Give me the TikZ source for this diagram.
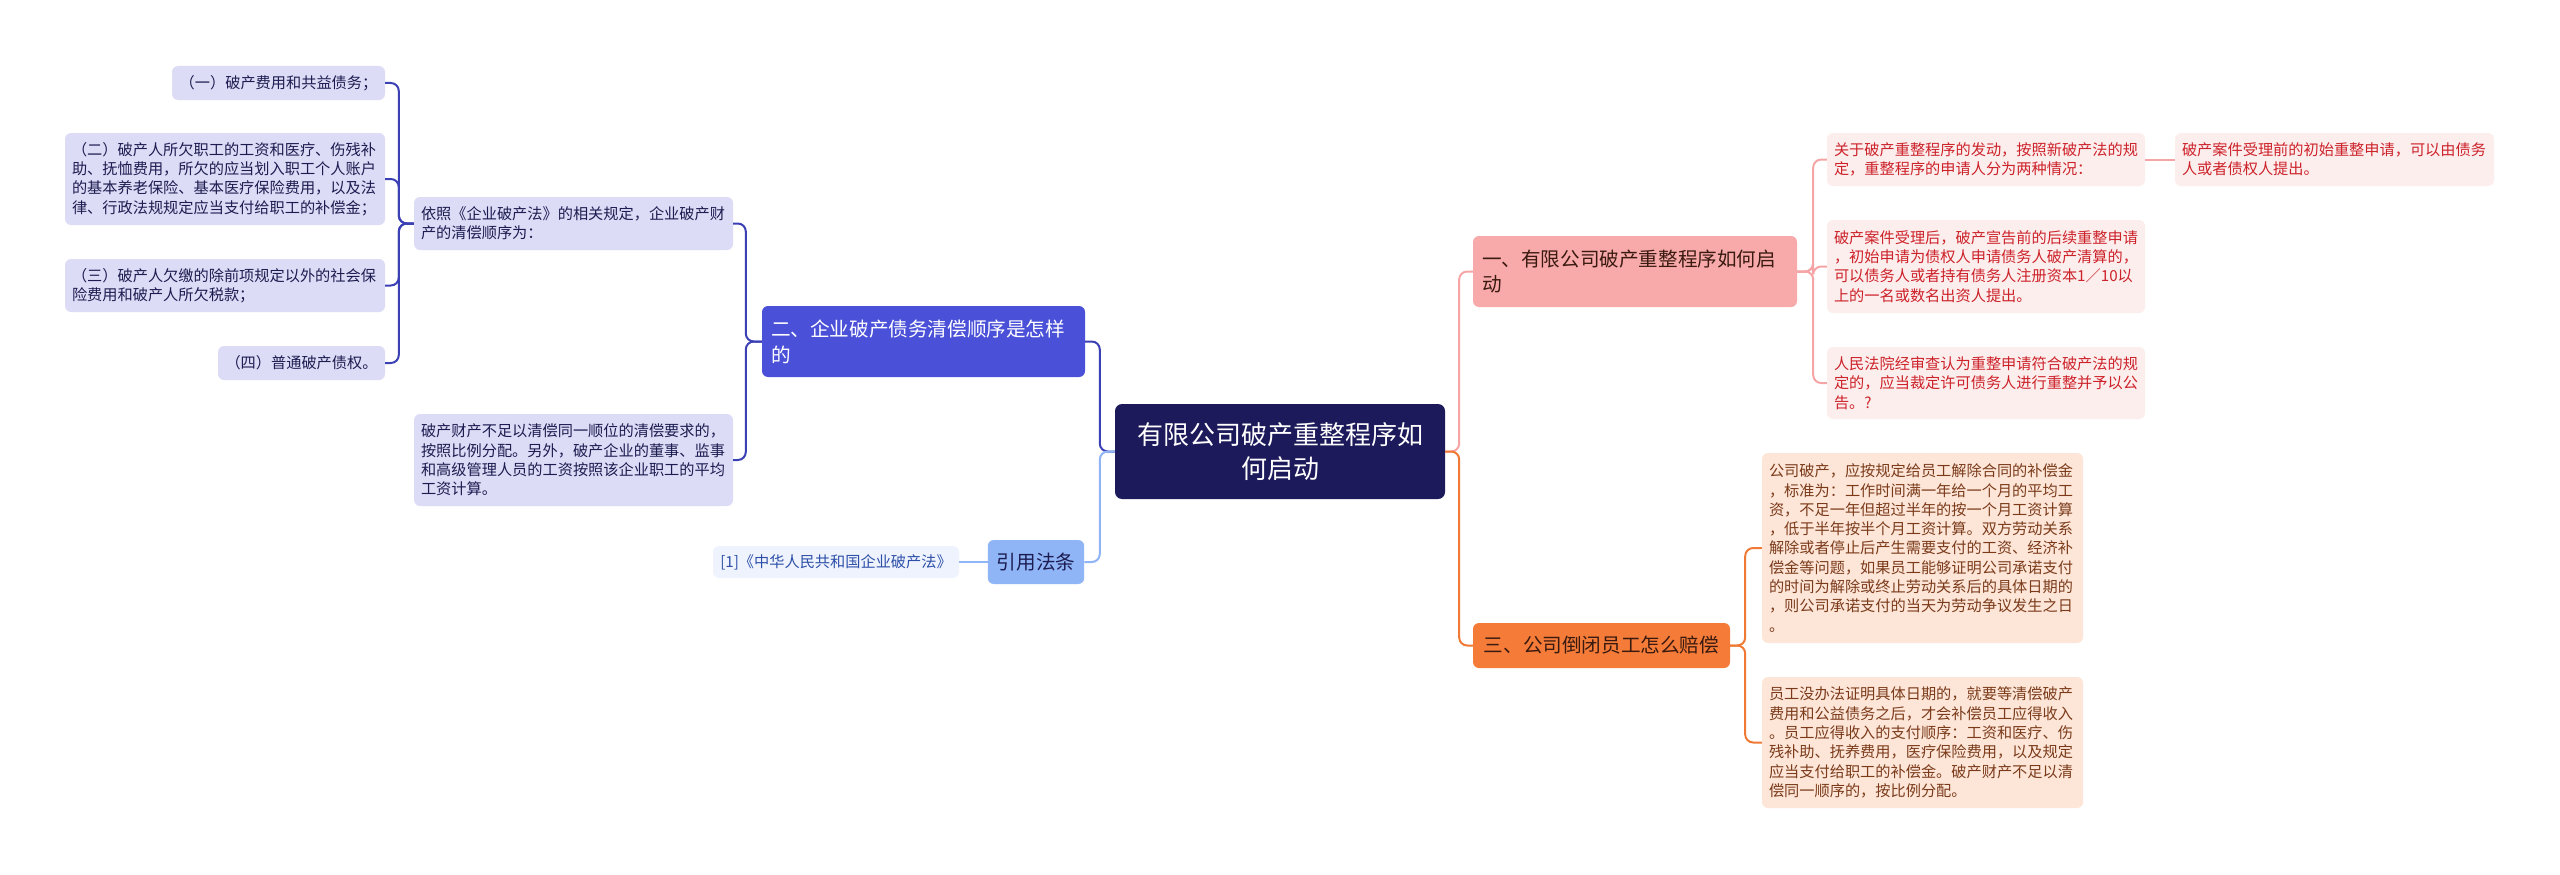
\documentclass[tikz,border=0pt]{standalone}
\usepackage{fontspec}
\newfontfamily\cjk{Noto Sans CJK SC}
\definecolor{rootfill}{HTML}{1C1A5A}
\definecolor{twofill}{HTML}{4A50D8}
\definecolor{indigoline}{HTML}{3C40B5}
\definecolor{lightblue}{HTML}{8FB5F7}
\definecolor{reffill}{HTML}{EEF3FD}
\definecolor{reftext}{HTML}{2D4FA8}
\definecolor{lavfill}{HTML}{DDDCF7}
\definecolor{lavtext}{HTML}{1C1C50}
\definecolor{pinkfill}{HTML}{F8AAAA}
\definecolor{pinkline}{HTML}{F5A5A5}
\definecolor{rosefill}{HTML}{FDEEEE}
\definecolor{redtext}{HTML}{CC2229}
\definecolor{orangefill}{HTML}{F47C38}
\definecolor{orangeline}{HTML}{F07A35}
\definecolor{peachfill}{HTML}{FDE6D8}
\definecolor{browntext}{HTML}{7B3B1B}
\definecolor{darktext}{HTML}{3A1A10}
\tikzset{
  small/.style={rounded corners=6pt, inner xsep=7pt, inner ysep=0pt, align=left,
    font=\cjk\fontsize{15.2}{19.3}\selectfont},
  medium/.style={rounded corners=6pt, inner xsep=9pt, inner ysep=0pt, align=left,
    font=\cjk\fontsize{19.6}{25.7}\selectfont},
  lav/.style={small, fill=lavfill, text=lavtext},
  rose/.style={small, fill=rosefill, text=redtext},
  peach/.style={small, fill=peachfill, text=browntext},
  refbox/.style={small, fill=reffill, text=reftext},
  conn/.style={line width=2pt, rounded corners=8pt},
  cdark/.style={conn, draw=indigoline},
  clight/.style={conn, draw=lightblue},
  cpink/.style={conn, draw=pinkline},
  corange/.style={conn, draw=orangeline},
}
\begin{document}
\begin{tikzpicture}[x=1pt,y=-1pt]
\useasboundingbox (0,0) rectangle (2560,875);
\fill[white] (0,0) rectangle (2560,875);

% root
\node[rounded corners=7pt, fill=rootfill, text=white, align=center, inner sep=0pt,
  minimum width=330pt, minimum height=95pt, font=\cjk\fontsize{26}{34}\selectfont]
  (root) at (1280,451.5) {有限公司破产重整程序如\\何启动};

% left branch
\node[medium, fill=twofill, text=white, minimum width=323pt, minimum height=71pt, text width=305pt]
  (two) at (923.5,341.5) {二、企业破产债务清偿顺序是怎样\\的};
\node[medium, fill=lightblue, text=lavtext, minimum width=96pt, minimum height=44pt, align=center]
  (cite) at (1036,562) {引用法条};
\node[refbox, minimum width=246pt, minimum height=32pt, align=center]
  (law) at (836,562) {[1]《中华人民共和国企业破产法》};
\node[lav, minimum width=319pt, minimum height=53pt, text width=305pt]
  (order) at (573.5,223.5) {依照《企业破产法》的相关规定，企业破产财\\产的清偿顺序为：};
\node[lav, minimum width=319pt, minimum height=92pt, text width=305pt]
  (insuf) at (573.5,460) {破产财产不足以清偿同一顺位的清偿要求的，\\按照比例分配。另外，破产企业的董事、监事\\和高级管理人员的工资按照该企业职工的平均\\工资计算。};
\node[lav, minimum width=213pt, minimum height=34pt, align=center]
  (o1) at (278.5,83) {（一）破产费用和共益债务；};
\node[lav, minimum width=320pt, minimum height=92pt, text width=306pt]
  (o2) at (225,179) {（二）破产人所欠职工的工资和医疗、伤残补\\助、抚恤费用，所欠的应当划入职工个人账户\\的基本养老保险、基本医疗保险费用，以及法\\律、行政法规规定应当支付给职工的补偿金；};
\node[lav, minimum width=320pt, minimum height=53pt, text width=306pt]
  (o3) at (225,285.5) {（三）破产人欠缴的除前项规定以外的社会保\\险费用和破产人所欠税款；};
\node[lav, minimum width=167pt, minimum height=34pt, align=center]
  (o4) at (301.5,363) {（四）普通破产债权。};

% right branch
\node[medium, fill=pinkfill, text=darktext, minimum width=324pt, minimum height=71pt, text width=306pt]
  (one) at (1635,271.5) {一、有限公司破产重整程序如何启\\动};
\node[rose, minimum width=318pt, minimum height=53pt, text width=304pt]
  (a) at (1986,159.5) {关于破产重整程序的发动，按照新破产法的规\\定，重整程序的申请人分为两种情况：};
\node[rose, minimum width=319pt, minimum height=53pt, text width=305pt]
  (a1) at (2334.5,159.5) {破产案件受理前的初始重整申请，可以由债务\\人或者债权人提出。};
\node[rose, minimum width=318pt, minimum height=93pt, text width=304pt]
  (b) at (1986,266.5) {破产案件受理后，破产宣告前的后续重整申请\\，初始申请为债权人申请债务人破产清算的，\\可以债务人或者持有债务人注册资本1／10以\\上的一名或数名出资人提出。};
\node[rose, minimum width=318pt, minimum height=72pt, text width=304pt]
  (c) at (1986,383) {人民法院经审查认为重整申请符合破产法的规\\定的，应当裁定许可债务人进行重整并予以公\\告。?};
\node[medium, fill=orangefill, text=darktext, minimum width=257pt, minimum height=45pt, align=center]
  (three) at (1601.5,645.5) {三、公司倒闭员工怎么赔偿};
\node[peach, minimum width=321pt, minimum height=190pt, text width=307pt]
  (d) at (1922.5,548) {公司破产，应按规定给员工解除合同的补偿金\\，标准为：工作时间满一年给一个月的平均工\\资，不足一年但超过半年的按一个月工资计算\\，低于半年按半个月工资计算。双方劳动关系\\解除或者停止后产生需要支付的工资、经济补\\偿金等问题，如果员工能够证明公司承诺支付\\的时间为解除或终止劳动关系后的具体日期的\\，则公司承诺支付的当天为劳动争议发生之日\\。};
\node[peach, minimum width=321pt, minimum height=131pt, text width=307pt]
  (e) at (1922.5,742.5) {员工没办法证明具体日期的，就要等清偿破产\\费用和公益债务之后，才会补偿员工应得收入\\。员工应得收入的支付顺序：工资和医疗、伤\\残补助、抚养费用，医疗保险费用，以及规定\\应当支付给职工的补偿金。破产财产不足以清\\偿同一顺序的，按比例分配。};

% connectors left
\draw[cdark] (root.west) -- ++(-15,0) |- (two.east);
\draw[clight] (root.west) -- ++(-15,0) |- (cite.east);
\draw[clight] (cite.west) -- (law.east);
\draw[cdark] (two.west) -- ++(-16,0) |- (order.east);
\draw[cdark] (two.west) -- ++(-16,0) |- (insuf.east);
\foreach \n in {o1,o2,o3,o4}
  \draw[cdark] (order.west) -- ++(-15,0) |- (\n.east);

% connectors right
\draw[cpink] (root.east) -- ++(14,0) |- (one.west);
\draw[corange] (root.east) -- ++(14,0) |- (three.west);
\foreach \n in {a,b,c}
  \draw[cpink] (one.east) -- ++(16,0) |- (\n.west);
\draw[cpink] (a.east) -- (a1.west);
\foreach \n in {d,e}
  \draw[corange] (three.east) -- ++(15,0) |- (\n.west);
\end{tikzpicture}
\end{document}
